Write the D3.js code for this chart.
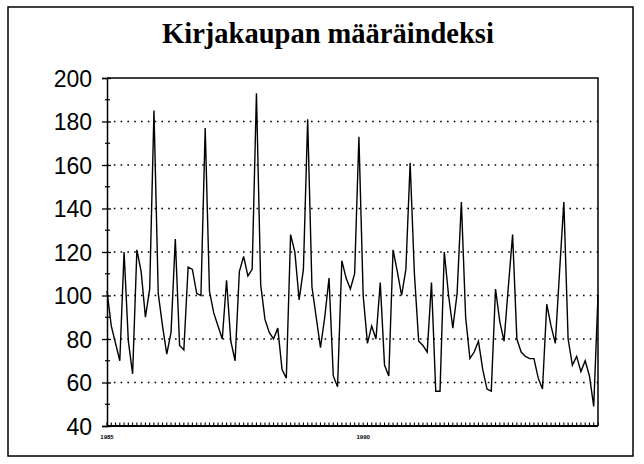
<!DOCTYPE html>
<html>
<head>
<meta charset="utf-8">
<script src="https://cdn.jsdelivr.net/npm/d3@7"></script>
<style>
  body { margin: 0; background: #fff; }
  .title { font-family: "Liberation Serif", serif; font-weight: bold; font-size: 28.5px; }
  .ylab { font-family: "Liberation Sans", sans-serif; font-size: 23px; }
  .xlab { font-family: "Liberation Sans", sans-serif; font-size: 6px; font-weight: bold; }
</style>
</head>
<body>
<script>
// monthly index, Jan 1985 .. Aug 1994
const values = [
  102, 86, 78, 70, 120, 79, 64, 121, 111, 90, 103, 185,
  101, 86, 73, 83, 126, 77, 75, 113, 112, 101, 100, 177,
  102, 92, 86, 80, 107, 79, 70, 111, 118, 109, 112, 193,
  105, 89, 83, 80, 85, 66, 62, 128, 120, 98, 112, 181,
  104, 90, 76, 90, 108, 63, 58, 116, 108, 103, 110, 173,
  100, 78, 86, 80, 106, 68, 63, 121, 111, 100, 112, 161,
  110, 79, 77, 74, 106, 56, 56, 120, 100, 85, 101, 143,
  90, 71, 74, 79, 66, 57, 56, 103, 88, 79, 104, 128,
  80, 74, 72, 71, 71, 62, 57, 96, 86, 78, 111, 143,
  80, 68, 72, 65, 70, 63, 49, 100
];
const yTicks = [40, 60, 80, 100, 120, 140, 160, 180, 200];
const yMinor = [50, 70, 90, 110, 130, 150, 170, 190];
const xLabels = [{i: 0, text: '1985'}, {i: 60, text: '1990'}];

const W = 644, H = 464;
const margin = {left: 107, top: 78};
const width = 491;
const height = 348;

const root = d3.select('body').append('svg')
    .attr('width', W)
    .attr('height', H);

// outer frame
root.append('rect')
    .attr('x', 8).attr('y', 7)
    .attr('width', 625).attr('height', 449)
    .attr('fill', 'none')
    .attr('stroke', '#000')
    .attr('stroke-width', 1.5);

root.append('text')
    .text('Kirjakaupan määräindeksi')
    .attr('x', 328)
    .attr('y', 43)
    .attr('text-anchor', 'middle')
    .attr('class', 'title');

const svg = root.append('g')
    .attr('transform', `translate(${margin.left}, ${margin.top})`);

const x = d3.scaleLinear().domain([0, values.length - 1]).range([0, width]);
const y = d3.scaleLinear().domain([40, 200]).range([height, 0]);

// dotted grid
svg.selectAll('.grid')
    .data(yTicks.filter(d => d > 40 && d < 200))
    .enter()
    .append('line')
    .attr('x1', 0).attr('x2', width)
    .attr('y1', d => y(d)).attr('y2', d => y(d))
    .attr('stroke', '#000')
    .attr('stroke-width', 1.6)
    .attr('stroke-dasharray', '1.6,5.2');

// frame top + right
svg.append('path')
    .attr('d', `M0,${y(200)}H${width}V${y(40)}`)
    .attr('fill', 'none')
    .attr('stroke', '#000')
    .attr('stroke-width', 1.5);

// y axis
const yAxis = d3.axisLeft(y)
    .tickValues(yTicks)
    .tickSize(5)
    .tickPadding(10);
const gy = svg.append('g').call(yAxis);
gy.select('.domain').attr('stroke-width', 1.5);
gy.selectAll('.tick line').attr('x2', 4).attr('x1', -5).attr('stroke-width', 1.3);
gy.selectAll('.tick text').attr('class', 'ylab').attr('dy', '0.36em');

svg.selectAll('.yminor')
    .data(yMinor)
    .enter()
    .append('line')
    .attr('x1', -2).attr('x2', 3)
    .attr('y1', d => y(d)).attr('y2', d => y(d))
    .attr('stroke', '#000')
    .attr('stroke-width', 1.2);

// x axis: month ticks pointing up
svg.append('line')
    .attr('x1', 0).attr('x2', width)
    .attr('y1', height).attr('y2', height)
    .attr('stroke', '#000')
    .attr('stroke-width', 1.8);

svg.selectAll('.xtick')
    .data(d3.range(values.length))
    .enter()
    .append('line')
    .attr('x1', d => x(d)).attr('x2', d => x(d))
    .attr('y1', height).attr('y2', height - 3.5)
    .attr('stroke', '#000')
    .attr('stroke-width', 1.1);

svg.selectAll('.xlab')
    .data(xLabels)
    .enter()
    .append('text')
    .text(d => d.text)
    .attr('x', d => x(d.i))
    .attr('y', height + 13)
    .attr('text-anchor', 'middle')
    .attr('class', 'xlab');

// series
const line = d3.line()
    .x((d, i) => x(i))
    .y(d => y(d));

svg.append('path')
    .datum(values)
    .attr('d', line)
    .attr('fill', 'none')
    .attr('stroke', '#000')
    .attr('stroke-width', 1.4)
    .attr('stroke-linejoin', 'miter');
</script>
</body>
</html>
